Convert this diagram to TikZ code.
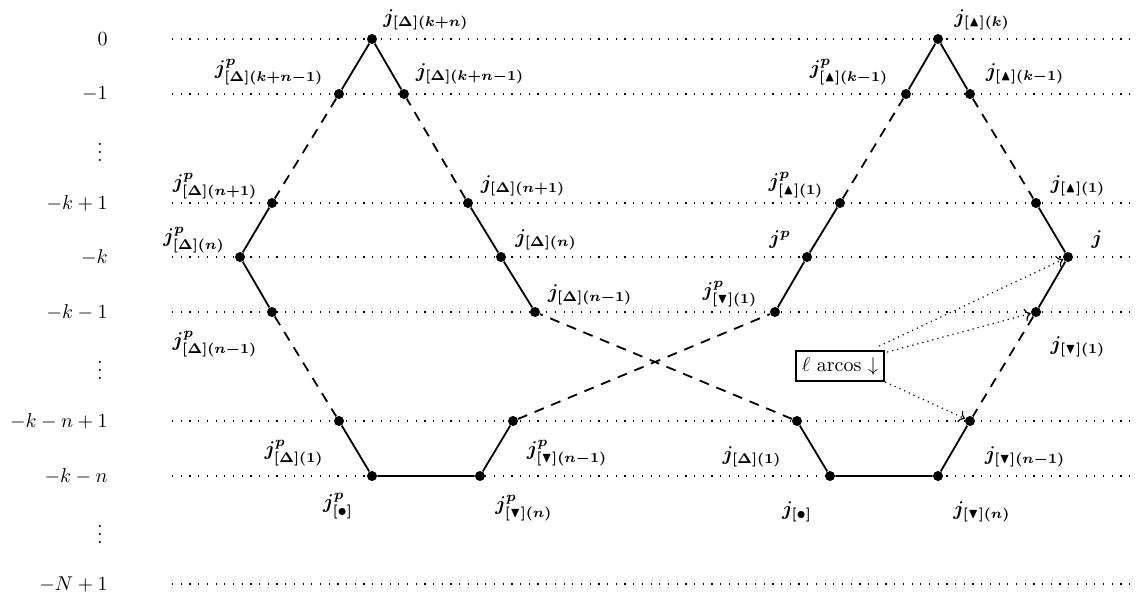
\documentclass[tikz,border=0pt]{standalone}
\usepackage{amsmath,amssymb}
\usetikzlibrary{arrows.meta}
\begin{document}
\begin{tikzpicture}[x=0.5pt,y=-0.5pt,
  vtx/.style={circle,fill=black,inner sep=0pt,minimum size=5pt},
  lab/.style={font=\boldmath,inner sep=1pt},
  ax/.style={anchor=east,inner sep=1pt},
  grid/.style={line width=0.6pt,dash pattern=on 0.6pt off 3.75pt},
  sol/.style={line width=0.9pt},
  dsh/.style={line width=0.9pt,dash pattern=on 5pt off 4pt},
  arr/.style={dotted,line width=0.6pt,-{To[length=3pt]}}]
\useasboundingbox (0,0) rectangle (1140,591);
% axis labels
\node[ax] (y0) at (110,39) {$0$};
\node[ax] (y1) at (110,94) {$-1$};
\node (d1) at (100,146) {$\vdots$};
\node[ax] (y2) at (110,203) {$-k+1$};
\node[ax] (y3) at (110,257) {$-k$};
\node[ax] (y4) at (110,312) {$-k-1$};
\node (d2) at (100,364) {$\vdots$};
\node[ax] (y5) at (110,421) {$-k-n+1$};
\node[ax] (y6) at (110,476) {$-k-n$};
\node (d3) at (100,528) {$\vdots$};
\node[ax] (y7) at (110,584) {$-N+1$};
% grid lines
\foreach \yy in {39,94,203,257,312,421,476,584}
  \draw[grid] (172,\yy) -- (1132,\yy);
% left vertices
\node[vtx] (L0) at (372,39) {};
\node[vtx] (La) at (339,94) {};
\node[vtx] (Lb) at (404,94) {};
\node[vtx] (Lc) at (272,203) {};
\node[vtx] (Ld) at (468,203) {};
\node[vtx] (Le) at (240,257) {};
\node[vtx] (Lf) at (501,257) {};
\node[vtx] (Lg) at (272,312) {};
\node[vtx] (Lh) at (535,312) {};
\node[vtx] (Li) at (339,421) {};
\node[vtx] (Lj) at (513,421) {};
\node[vtx] (Lk) at (372,476) {};
\node[vtx] (Ll) at (480,476) {};
% right vertices
\node[vtx] (R0) at (938,39) {};
\node[vtx] (Ra) at (906,94) {};
\node[vtx] (Rb) at (970,94) {};
\node[vtx] (Rc) at (840,203) {};
\node[vtx] (Rd) at (1036,203) {};
\node[vtx] (Re) at (807,257) {};
\node[vtx] (Rf) at (1068,257) {};
\node[vtx] (Rg) at (775,312) {};
\node[vtx] (Rh) at (1036,312) {};
\node[vtx] (Ri) at (797,421) {};
\node[vtx] (Rj) at (970,421) {};
\node[vtx] (Rk) at (830,476) {};
\node[vtx] (Rl) at (938,476) {};
% edges
\draw[sol] (La) -- (L0) -- (Lb);
\draw[dsh] (La) -- (Lc);
\draw[sol] (Lc) -- (Le) -- (Lg);
\draw[dsh] (Lg) -- (Li);
\draw[sol] (Li) -- (Lk) -- (Ll) -- (Lj);
\draw[dsh] (Lj) -- (Rg);
\draw[sol] (Rg) -- (Re) -- (Rc);
\draw[dsh] (Rc) -- (Ra);
\draw[sol] (Ra) -- (R0) -- (Rb);
\draw[dsh] (Rb) -- (Rd);
\draw[sol] (Rd) -- (Rf) -- (Rh);
\draw[dsh] (Rh) -- (Rj);
\draw[sol] (Rj) -- (Rl) -- (Rk) -- (Ri);
\draw[dsh] (Ri) -- (Lh);
\draw[sol] (Lh) -- (Lf) -- (Ld);
\draw[dsh] (Ld) -- (Lb);
% left labels
\node[lab] (tL0) at (426,20) {$j_{[\Delta](k+n)}$};
\node[lab] (tLa) at (269,72) {$j^p_{[\Delta](k+n-1)}$};
\node[lab] (tLb) at (470,74) {$j_{[\Delta](k+n-1)}$};
\node[lab] (tLc) at (215,186) {$j^p_{[\Delta](n+1)}$};
\node[lab] (tLd) at (523,186) {$j_{[\Delta](n+1)}$};
\node[lab] (tLe) at (194,240) {$j^p_{[\Delta](n)}$};
\node[lab] (tLf) at (546,240) {$j_{[\Delta](n)}$};
\node[lab] (tLg) at (215,344) {$j^p_{[\Delta](n-1)}$};
\node[lab] (tLh) at (590,295) {$j_{[\Delta](n-1)}$};
\node[lab] (tLi) at (294,453) {$j^p_{[\Delta](1)}$};
\node[lab] (tLj) at (567,453) {$j^p_{[\blacktriangledown](n-1)}$};
\node[lab] (tLk) at (338,506) {$j^p_{[\bullet]}$};
\node[lab] (tLl) at (524,508) {$j^p_{[\blacktriangledown](n)}$};
% right labels
\node[lab] (tR0) at (982,20) {$j_{[\blacktriangle](k)}$};
\node[lab] (tRa) at (849,72) {$j^p_{[\blacktriangle](k-1)}$};
\node[lab] (tRb) at (1025,74) {$j_{[\blacktriangle](k-1)}$};
\node[lab] (tRc) at (796,185) {$j^p_{[\blacktriangle](1)}$};
\node[lab] (tRd) at (1078,186) {$j_{[\blacktriangle](1)}$};
\node[lab] (tRe) at (780,240) {$j^p$};
\node[lab] (tRf) at (1097,240) {$j$};
\node[lab] (tRg) at (730,294) {$j^p_{[\blacktriangledown](1)}$};
\node[lab] (tRh) at (1078,347) {$j_{[\blacktriangledown](1)}$};
\node[lab] (tRi) at (752,457) {$j_{[\Delta](1)}$};
\node[lab] (tRj) at (1025,457) {$j_{[\blacktriangledown](n-1)}$};
\node[lab] (tRk) at (797,512) {$j_{[\bullet]}$};
\node[lab] (tRl) at (982,512) {$j_{[\blacktriangledown](n)}$};
% box and arrows
\node[draw,line width=1pt,inner sep=3pt] (box) at (840,366) {$\ell$ arcos $\downarrow$};
\draw[arr] ([xshift=-3pt,yshift=2pt]box.north east) -- (Rf);
\draw[arr] ([xshift=1pt,yshift=-1pt]box.north east) -- (Rh);
\draw[arr] (box.south east) -- (Rj);
\end{tikzpicture}
\end{document}
